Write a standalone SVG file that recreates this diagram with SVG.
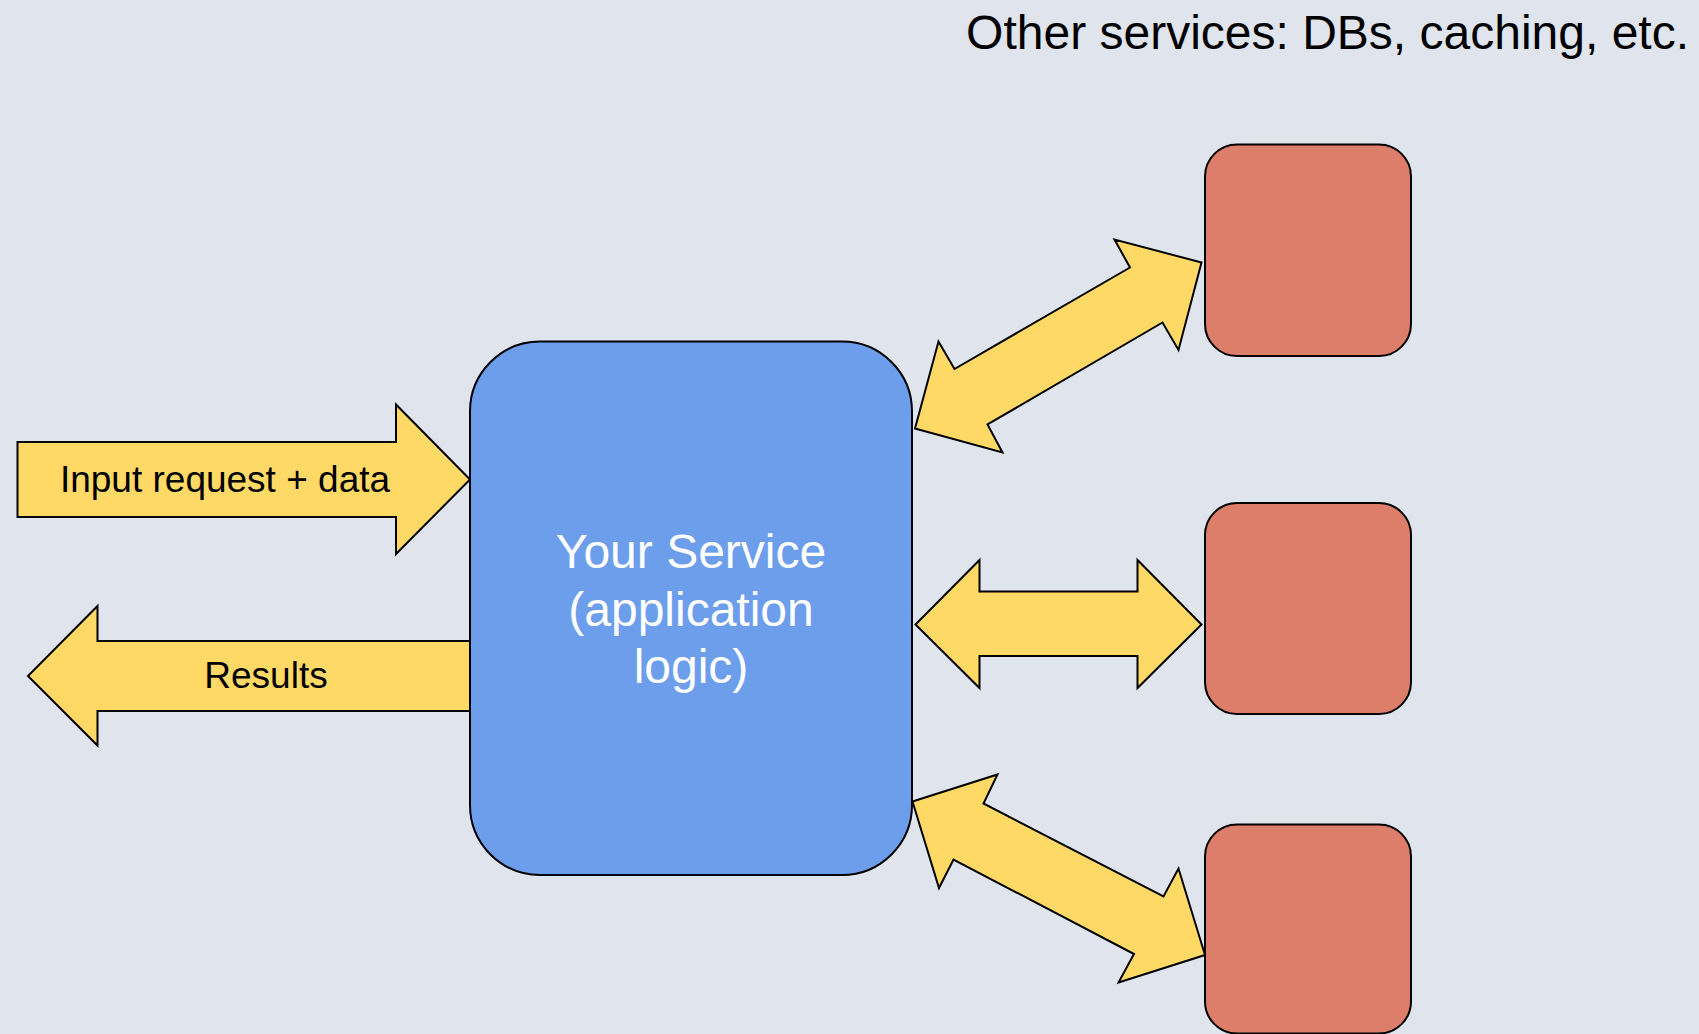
<svg xmlns="http://www.w3.org/2000/svg" width="1699" height="1034" viewBox="0 0 1699 1034">
<style>
.arrow{fill:#ffd966;stroke:#000;stroke-width:2;stroke-linejoin:miter}
.svc{fill:#dd7e6b;stroke:#000;stroke-width:2}
.lbl{font-family:"Liberation Sans",Arial,sans-serif;fill:#000}
</style>
<rect x="0" y="0" width="1699" height="1034" fill="#dfe4ed"/>
<text class="lbl" x="1689" y="49" font-size="48" text-anchor="end">Other services: DBs, caching, etc.</text>
<g id="connectors">
<g id="input-arrow">
<polygon class="arrow" points="17.5,442 396,442 396,404.5 470,479.5 396,554 396,517 17.5,517"/>
<text class="lbl" x="225" y="491.5" font-size="37" text-anchor="middle">Input request + data</text>
</g>
<g id="results-arrow">
<polygon class="arrow" points="470,641 97.5,641 97.5,606 28,676 97.5,745.5 97.5,711 470,711"/>
<text class="lbl" x="266" y="688" font-size="37" text-anchor="middle">Results</text>
</g>
<polygon id="arrow-top" class="arrow" points="915,428.5 938.5,341.5 954.5,369 1130,267.5 1114.5,239.5 1201.5,262.5 1178.5,350 1162.5,322.5 987.5,424.5 1002.5,452.5"/>
<polygon id="arrow-mid" class="arrow" points="915.5,624.5 979.5,560 979.5,591.5 1137.5,591.5 1137.5,560 1201.5,624.5 1137.5,688 1137.5,656 979.5,656 979.5,688"/>
<polygon id="arrow-bottom" class="arrow" points="912.5,801.5 997.5,774.5 983.5,803.5 1163.5,896.5 1178.5,868.5 1205,955 1118.5,982.5 1134,954 953.5,859.5 939,888"/>
</g>
<g id="your-service">
<rect x="470" y="341.5" width="442" height="533.5" rx="70" ry="70" fill="#6d9eeb" stroke="#000" stroke-width="2"/>
<text font-family="Liberation Sans, Arial, sans-serif" font-size="48" fill="#fff" text-anchor="middle"><tspan x="691" y="567.5">Your Service</tspan><tspan x="691" y="625.5">(application</tspan><tspan x="691" y="683">logic)</tspan></text>
</g>
<g id="service-1"><rect class="svc" x="1205" y="144.5" width="206" height="211.5" rx="32" ry="32"/></g>
<g id="service-2"><rect class="svc" x="1205" y="503" width="206" height="211" rx="32" ry="32"/></g>
<g id="service-3"><rect class="svc" x="1205" y="824.5" width="206" height="209" rx="32" ry="32"/></g>
</svg>
